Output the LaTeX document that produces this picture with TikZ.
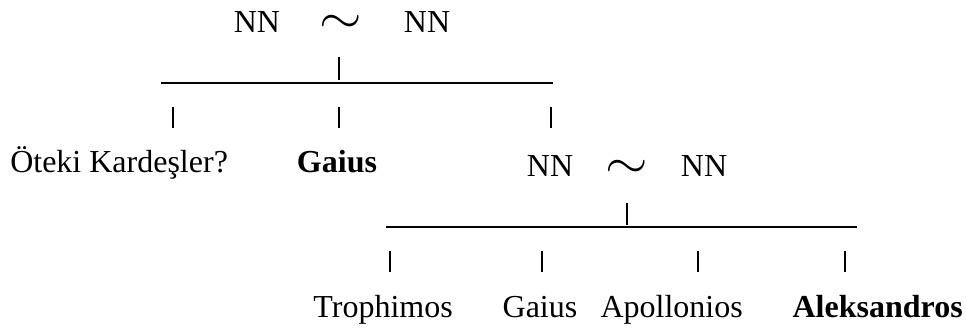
\documentclass[tikz,border=0pt]{standalone}
\usepackage{fontspec}
\setmainfont{Liberation Serif}
\usepackage{graphicx}
\usetikzlibrary{positioning}

\tikzset{
  lbl/.style={inner sep=0pt, anchor=base, font=\fontsize{24}{28}\selectfont},
  tld/.style={inner sep=0pt, anchor=base, font=\fontsize{24}{28}\selectfont},
  bar/.style={line width=1.2pt},
  tick/.style={line width=1.4pt}
}
\newcommand{\twiddle}{\raisebox{0pt}[12pt][0pt]{\scalebox{1.65}[1.5]{$\sim$}}}

\begin{document}
\begin{tikzpicture}[x=0.75pt, y=-0.75pt]
  \useasboundingbox (0,0) rectangle (966,334);

  % upper level
  \node[lbl] (nnA) at (257,33) {NN};
  \node[tld] (tA) at (341,34) {\twiddle};
  \node[lbl] (nnB) at (427,33) {NN};
  \coordinate (upA) at (339,57);
  \coordinate (upB) at (339,80);
  \draw[tick] (upA) -- (upB);
  \coordinate (barAl) at (161,83);
  \coordinate (barAr) at (553,83);
  \draw[bar] (barAl) -- (barAr);
  \foreach \x/\n in {173/kA, 339/kB, 551/kC} {
    \coordinate (\n u) at (\x,107);
    \coordinate (\n d) at (\x,128);
    \draw[tick] (\n u) -- (\n d);
  }
  \node[lbl, anchor=base west] (oteki) at (10,173) {Öteki Kardeşler?};
  \node[lbl, font=\fontsize{24}{28}\selectfont\bfseries] (gaiusA) at (337,173) {Gaius};

  % lower level
  \node[lbl] (nnC) at (550,177) {NN};
  \node[tld] (tB) at (627,179) {\twiddle};
  \node[lbl] (nnD) at (704,177) {NN};
  \coordinate (upC) at (627,203);
  \coordinate (upD) at (627,225);
  \draw[tick] (upC) -- (upD);
  \coordinate (barBl) at (386,227);
  \coordinate (barBr) at (857,227);
  \draw[bar] (barBl) -- (barBr);
  \foreach \x/\n in {390/kD, 542/kE, 698/kF, 845/kG} {
    \coordinate (\n u) at (\x,251);
    \coordinate (\n d) at (\x,272);
    \draw[tick] (\n u) -- (\n d);
  }
  \node[lbl, anchor=base east] (troph) at (453,317) {Trophimos};
  \node[lbl] (gaiusB) at (540,317) {Gaius};
  \node[lbl, anchor=base east] (apoll) at (743,317) {Apollonios};
  \node[lbl, anchor=base east, font=\fontsize{24}{28}\selectfont\bfseries] (aleks) at (963,317) {Aleksandros};
\end{tikzpicture}
\end{document}
